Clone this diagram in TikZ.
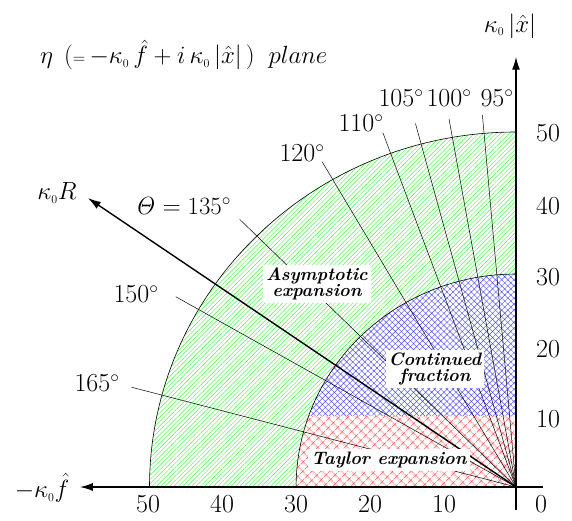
\documentclass[tikz,border=0pt]{standalone}
\usetikzlibrary{patterns.meta,arrows.meta}
\begin{document}
\begin{tikzpicture}[x=1pt,y=-1pt,
  lbl/.style={font=\fontsize{26}{30}\selectfont, inner sep=0pt},
  region/.style={fill=white, inner sep=3pt, font=\fontsize{18}{18}\selectfont\bfseries\itshape, align=center},
  ray/.style={line width=0.5pt},
  arcline/.style={line width=0.6pt},
  axis/.style={line width=1.4pt, -{Latex[length=13pt,width=8pt]}}]
\useasboundingbox (0,0) rectangle (572,520);
\begin{scope}[shift={(516,487)}, x=7.33pt, y=7.1pt]
  \coordinate (O) at (0,0);
  % green annulus
  \path[pattern={Lines[angle=45,distance=3.1pt,line width=0.45pt]}, pattern color=green!75!white]
    (0,30) -- (0,50) arc[start angle=90,end angle=180,radius=50] -- (-30,0)
    arc[start angle=180,end angle=90,radius=30] -- cycle;
  % blue region
  \path[pattern={Hatch[angle=45,distance=4.3pt,line width=0.45pt]}, pattern color=blue!70!white]
    (0,10) -- (0,30) arc[start angle=90,end angle=160.53,radius=30] -- cycle;
  % red region
  \path[pattern={Hatch[angle=45,distance=6.5pt,line width=0.45pt]}, pattern color=red!75!white]
    (0,0) -- (0,10) -- (-28.28,10) arc[start angle=160.53,end angle=180,radius=30] -- cycle;
  % arcs
  \draw[arcline] (0,50) arc[start angle=90,end angle=180,radius=50];
  \draw[arcline] (0,30) arc[start angle=90,end angle=180,radius=30];
  % rays
  \foreach \a/\r in {95/52.6,100/52.6,105/53,110/53.1,120/52.9,135/53.3,150/53.6,165/54.3}
    \draw[ray] (O) -- (\a:\r) coordinate (t\a);
  % axes
  \coordinate (xe) at (3.7,0);
  \coordinate (xt) at (-59.5,0);
  \coordinate (ye) at (0,-3.24);
  \coordinate (yt) at (0,60.6);
  \coordinate (Rt) at (-58.4,40.7);
  \draw[axis] (xe) -- (xt);
  \draw[axis] (ye) -- (yt);
  \draw[axis] (O) -- (Rt);
\end{scope}
% region labels
\node[region] (asy) at (317,284) {Asymptotic\\[-2pt]expansion};
\node[region] (cf) at (435,369) {Continued\\[-2pt]fraction};
\node[region] (tay) at (389,460) {Taylor expansion};
% axis labels
\node[lbl, anchor=west] (ttl) at (40,55) {$\eta\;\,(\mathord{\scriptstyle=}\,{-}\kappa_{\scriptscriptstyle 0}\,\hat f+i\,\kappa_{\scriptscriptstyle 0}\,\bigl|\hat x\bigr|\,)\;\;plane$};
\node[lbl] (ylab) at (510,26) {$\kappa_{\scriptscriptstyle 0}\,\bigl|\hat x\bigr|$};
\node[lbl] (xlab) at (42,488) {$-\kappa_{\scriptscriptstyle 0}\hat f$};
\node[lbl] (Rlab) at (57,193) {$\kappa_{\scriptscriptstyle 0}R$};
% tick labels
\foreach \v/\px in {50/148,40/222,30/296,20/370,10/444}
  \node[lbl] (xl\v) at (\px,504) {\v};
\node[lbl] (x0) at (541,504) {0};
\foreach \v/\py in {50/133,40/206,30/277,20/349,10/419}
  \node[lbl] (yl\v) at (548,\py) {\v};
% angle labels
\node[lbl] (a95) at (497,98) {95$^\circ$};
\node[lbl] (a100) at (449,98) {100$^\circ$};
\node[lbl] (a105) at (401,98) {105$^\circ$};
\node[lbl] (a110) at (361,123) {110$^\circ$};
\node[lbl] (a120) at (302,153) {120$^\circ$};
\node[lbl] (a135) at (183,206) {$\mathit{\Theta}=135^\circ$};
\node[lbl] (a150) at (136,294) {150$^\circ$};
\node[lbl] (a165) at (97,383) {165$^\circ$};
\end{tikzpicture}
\end{document}
